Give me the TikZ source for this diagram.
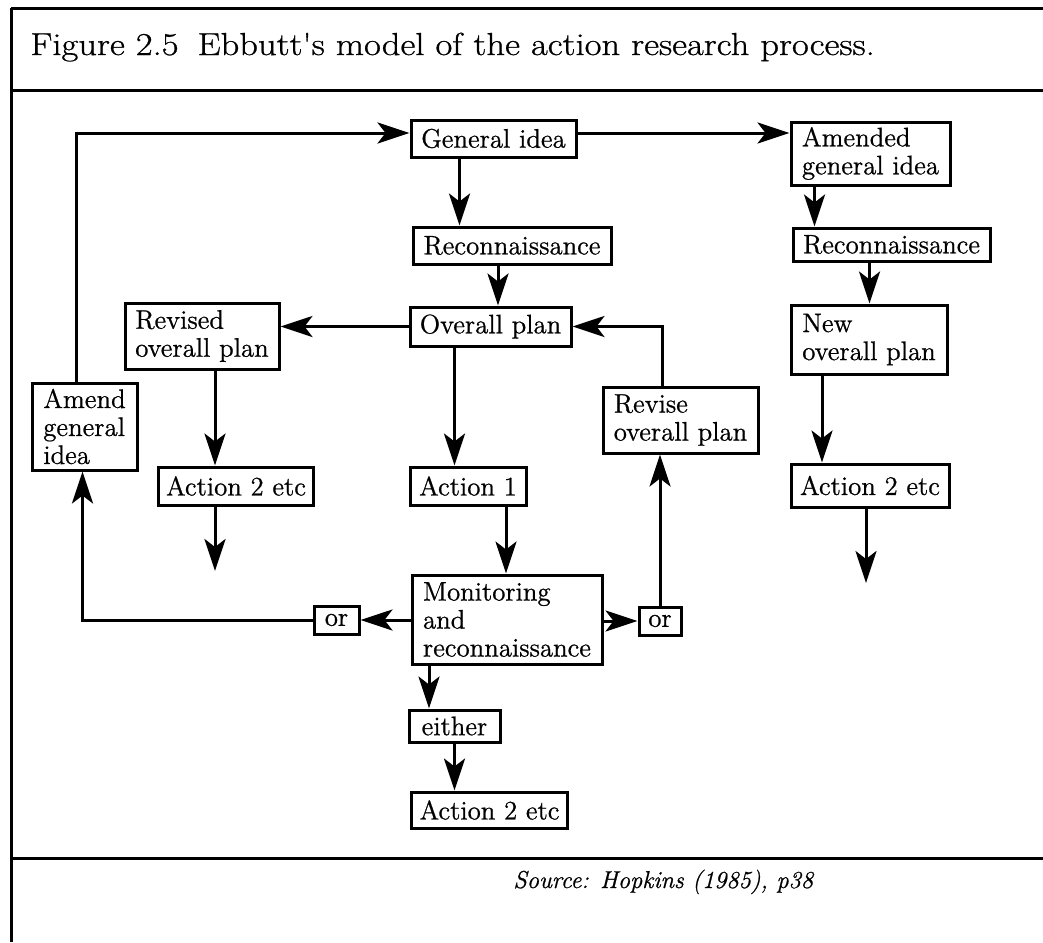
\documentclass[tikz,border=0pt]{standalone}
\usepackage{fontspec}
\setmainfont{Latin Modern Roman}[FakeBold=0.8]
\newfontfamily\capfont{Latin Modern Roman}[FakeBold=0.8, FakeStretch=1.15]
\usetikzlibrary{arrows.meta}

\begin{document}
\begin{tikzpicture}[x=0.5pt, y=-0.5pt,
    box/.style={draw, line width=1.5pt, align=left, inner xsep=4pt, inner ysep=2pt, font=\fontsize{13.4}{14}\selectfont},
    arr/.style={line width=1.5pt, -{Stealth[length=16pt, width=10.5pt, inset=4pt]}},
    frame/.style={line width=1.5pt}]
\useasboundingbox (0,0) rectangle (1043,942);

% frame and caption
\draw[frame] (11,8) -- (1043,8);
\draw[frame] (11,8) -- (11,942);
\draw[frame] (11,90) -- (1043,90);
\draw[frame] (11,858) -- (1043,858);
\node[anchor=base west, inner sep=0pt, font=\capfont\fontsize{15.9}{18}\selectfont] (title) at (30,55) {Figure 2.5\hspace{0.6em}Ebbutt's model of the action research process.};
\node[anchor=base west, inner sep=0pt, font=\fontsize{12.2}{14}\selectfont\itshape] (src) at (513,888) {Source: Hopkins (1985), p38};

% first cycle
\node[box, minimum width=82.5pt, minimum height=18.5pt] (gen) at (493.5,138.5) {General idea};
\node[box, minimum width=99pt, minimum height=18.5pt] (recA) at (512,245.5) {Reconnaissance};
\node[box, minimum width=80.5pt, minimum height=19.5pt] (plan) at (490.5,326.5) {Overall plan};
\node[box, minimum width=58pt, minimum height=19pt] (act1) at (468,486) {Action 1};
\node[box, minimum width=95pt, minimum height=44.5pt] (mon) at (507,619.5) {Monitoring\\and\\reconnaissance};
\node[box, minimum width=45.5pt, minimum height=16pt] (either) at (454.5,726) {either};
\node[box, minimum width=77.5pt, minimum height=18pt] (actB) at (489.5,810) {Action 2 etc};
\node[box, minimum width=22.5pt, minimum height=14pt] (orL) at (336.5,620) {or};
\node[box, minimum width=21pt, minimum height=14pt] (orR) at (660,621) {or};

% revising the plan
\node[box, minimum width=77.5pt, minimum height=33pt] (revs) at (680.5,420) {Revise\\overall plan};
\node[box, minimum width=77pt, minimum height=33pt] (revd) at (202,336) {Revised\\overall plan};
\node[box, minimum width=77pt, minimum height=19pt] (actL) at (236,486) {Action 2 etc};
\coordinate (endL) at (215,571);

% amending the idea
\node[box, minimum width=52.5pt, minimum height=43.5pt] (amend) at (84.5,426.5) {Amend\\general\\idea};
\node[box, minimum width=79.5pt, minimum height=31.5pt] (amgen) at (870.5,153.5) {Amended\\general idea};
\node[box, minimum width=98.5pt, minimum height=16.5pt] (recB) at (891.5,244.5) {Reconnaissance};
\node[box, minimum width=78pt, minimum height=34.5pt] (newp) at (869,339.5) {New\\overall plan};
\node[box, minimum width=79pt, minimum height=21.5pt] (actR) at (870,485.5) {Action 2 etc};
\coordinate (endR) at (866,583);

\draw[arr] ([xshift=-17pt]gen.south) -- ([xshift=-17pt]gen.south |- recA.north);
\draw[arr] ([xshift=-7pt]recA.south) -- ([xshift=-7pt]recA.south |- plan.north);
\draw[arr] ([xshift=-18pt]plan.south) -- ([xshift=-18pt]plan.south |- act1.north);
\draw[arr] ([xshift=19pt]act1.south) -- ([xshift=19pt]act1.south |- mon.north);
\draw[arr] ([xshift=-39pt]mon.south) -- ([xshift=-39pt]mon.south |- either.north);
\draw[arr] (either.south) -- (either.south |- actB.north);
\draw[arr] (mon.west |- orL.east) -- (orL.east);
\draw[arr] (mon.east |- orR.west) -- (orR.west);
\draw[arr] (orR.north) -- (orR.north |- revs.south);
\draw[arr] ([xshift=-9pt]revs.north) |- (plan.east);
\draw[arr] (plan.west) -- (plan.west -| revd.east);
\draw[arr] ([xshift=6.5pt]revd.south) -- ([xshift=6.5pt]revd.south |- actL.north);
\draw[arr] ([xshift=-10.5pt]actL.south) -- ([xshift=-10.5pt]actL.south |- endL);
\draw[arr] (orL.west) -| ([xshift=-1pt]amend.south);
\draw[arr] ([xshift=-4pt]amend.north) |- ([yshift=2.75pt]gen.west);
\draw[arr] ([yshift=2.75pt]gen.east) -- ([yshift=2.75pt]gen.east -| amgen.west);
\draw[arr] ([xshift=-28pt]amgen.south) -- ([xshift=-28pt]amgen.south |- recB.north);
\draw[arr] ([xshift=-11pt]recB.south) -- ([xshift=-11pt]recB.south |- newp.north);
\draw[arr] ([xshift=-23.5pt]newp.south) -- ([xshift=-23.5pt]newp.south |- actR.north);
\draw[arr] ([xshift=-2pt]actR.south) -- ([xshift=-2pt]actR.south |- endR);
\end{tikzpicture}
\end{document}
